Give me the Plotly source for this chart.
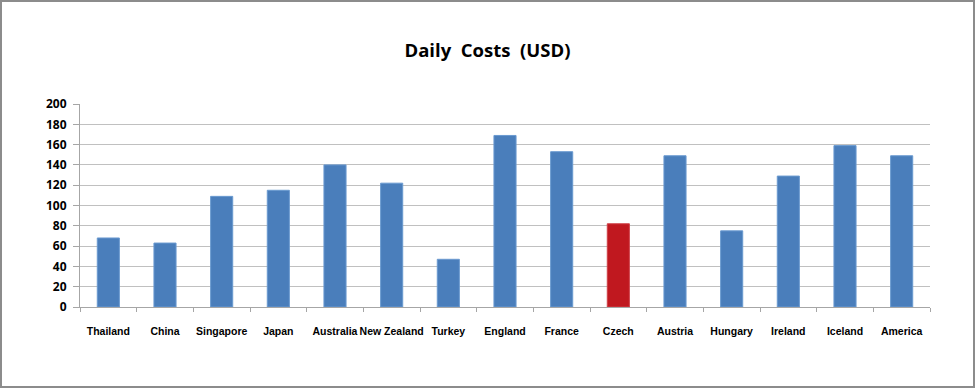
import plotly.graph_objects as go

countries = ["Thailand", "China", "Singapore", "Japan", "Australia", "New Zealand", "Turkey",
             "England", "France", "Czech", "Austria", "Hungary", "Ireland", "Iceland", "America"]
costs = [68, 63, 109, 115, 140, 122, 47, 169, 153, 82, 149, 75, 129, 159, 149]
highlight = "Czech"
blue = "#4A7EBB"
red = "#C0181F"
colors = [red if c == highlight else blue for c in countries]
line_colors = ["#D04048" if c == highlight else "#6A9AD0" for c in countries]

W, H = 975, 388
L, R, T, B = 80, 45, 104, 81
pw, ph = W - L - R, H - T - B

fig = go.Figure(go.Bar(x=countries, y=costs, marker=dict(color=colors, line=dict(color=line_colors, width=1)),
                       width=0.39))

fig.update_layout(
    width=W, height=H,
    margin=dict(l=L, r=R, t=T, b=B, pad=0, autoexpand=False),
    paper_bgcolor="white", plot_bgcolor="white",
    font=dict(family="Open Sans", color="black"),
    title=dict(text="<b>Daily  Costs  (USD)</b>", x=0.5, xanchor="center", y=1 - 51 / H, yanchor="middle",
               font=dict(size=18.5, family="Open Sans", color="black")),
    showlegend=False,
    bargap=0.6,
)
fig.update_xaxes(
    type="category", showline=True, linecolor="#A6A6A6", linewidth=1,
    ticks="outside", tickson="boundaries", ticklen=4, tickcolor="#A6A6A6",
    tickangle=0, automargin=False,
    tickfont=dict(size=10.5, family="Liberation Sans", color="black", weight="bold"),
    ticklabelstandoff=14, showgrid=False,
)
fig.update_yaxes(
    range=[0, 200], dtick=20, showline=True, linecolor="#A6A6A6", linewidth=1,
    ticks="outside", ticklen=6, tickcolor="#A6A6A6", automargin=False,
    gridcolor="#C0C0C0", gridwidth=1, zeroline=False,
    tickfont=dict(size=12, family="Open Sans", color="black", weight="bold"),
    ticklabelstandoff=4,
)
fig.add_shape(type="rect", xref="paper", yref="paper",
              x0=(1 - L) / pw, x1=(W - 1 - L) / pw,
              y0=(T + ph - (H - 1)) / ph, y1=(T + ph - 1) / ph,
              line=dict(color="#8C8C8C", width=2), fillcolor="rgba(0,0,0,0)", layer="above")

fig.write_html("out.html", config={"displayModeBar": False},
               post_script="document.body.style.margin='0';document.body.style.overflow='hidden';")
